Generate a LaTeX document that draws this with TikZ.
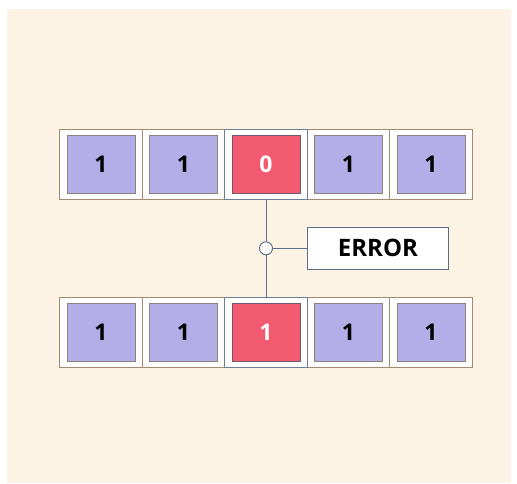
\documentclass[tikz,border=0pt]{standalone}
\usepackage{fontspec}
\setmainfont{Open Sans}
\definecolor{bg}{HTML}{FDF3E5}
\definecolor{cellbd}{HTML}{A08A72}
\definecolor{midbd}{HTML}{6C7F96}
\definecolor{purp}{HTML}{B3AEE8}
\definecolor{purpbd}{HTML}{8F7F78}
\definecolor{redf}{HTML}{F25A70}
\definecolor{redbd}{HTML}{6E5A6E}
\definecolor{wire}{HTML}{5D7088}
\tikzset{
  cell/.style={draw=cellbd, fill=white, line width=1pt, minimum width=82.5pt, minimum height=70pt, inner sep=0pt, outer sep=0pt},
  midcell/.style={cell, draw=midbd},
  bitbox/.style={draw=purpbd, fill=purp, line width=1pt, minimum width=68pt, minimum height=58pt, inner sep=0pt, font=\fontsize{23}{25}\selectfont\bfseries, text=black},
  errbit/.style={bitbox, draw=redbd, fill=redf, text=white},
  errbox/.style={draw=wire, fill=white, line width=1pt, minimum width=141pt, minimum height=42pt, inner sep=0pt, font=\fontsize{24}{26}\selectfont\bfseries},
  wireline/.style={draw=wire, line width=1pt},
  joint/.style={circle, draw=wire, fill=white, line width=1pt, minimum size=13pt, inner sep=0pt}
}
\begin{document}
\begin{tikzpicture}[x=1pt, y=-1pt]
\useasboundingbox (0,0) rectangle (517,483);
\fill[bg] (7,9) rectangle (511,483);
% top row
\foreach \i/\v in {0/1,1/1,3/1,4/1}{
  \node[cell] (tc\i) at ({101+82.5*\i},164) {};
  \node[bitbox] (tb\i) at ({101+82.5*\i},164) {\v};
}
\node[midcell] (tc2) at (266,164) {};
\node[errbit] (tb2) at (266,164) {0};
% bottom row
\foreach \i/\v in {0/1,1/1,3/1,4/1}{
  \node[cell] (bc\i) at ({101+82.5*\i},332.5) {};
  \node[bitbox] (bb\i) at ({101+82.5*\i},332.5) {\v};
}
\node[midcell] (bc2) at (266,332.5) {};
\node[errbit] (bb2) at (266,332.5) {1};
% comparator
\node[joint] (j) at (266,248.3) {};
\node[errbox] (err) at (378,248.3) {ERROR};
\draw[wireline] (tc2.south) -- (j.north);
\draw[wireline] (j.south) -- (bc2.north);
\draw[wireline] (j.east) -- (err.west);
\end{tikzpicture}
\end{document}
